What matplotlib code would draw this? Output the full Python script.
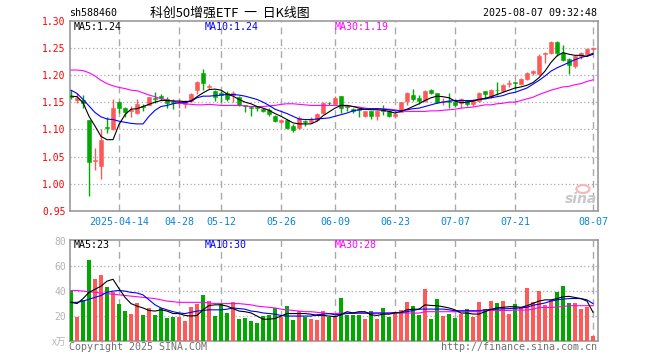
import matplotlib
matplotlib.use("Agg")
import matplotlib.pyplot as plt
import matplotlib.patches as mpatches
import pandas as pd
import numpy as np

# ---------------- data ----------------
holidays = ['2025-04-04', '2025-05-01', '2025-05-02', '2025-05-05', '2025-06-02']
days = pd.bdate_range('2025-04-01', '2025-08-07')
days = days[~days.isin(pd.to_datetime(holidays))]

opens = [1.162, 1.154, 1.154, 1.117, 1.041, 1.032, 1.105, 1.101, 1.151, 1.140,
         1.134, 1.130, 1.143, 1.145, 1.158, 1.161, 1.156, 1.151, 1.148, 1.147,
         1.152, 1.172, 1.203, 1.178, 1.171, 1.167, 1.166, 1.163, 1.160, 1.144,
         1.141, 1.140, 1.138, 1.136, 1.124, 1.113, 1.118, 1.107, 1.102, 1.115,
         1.114, 1.117, 1.130, 1.149, 1.147, 1.162, 1.143, 1.138, 1.137, 1.125,
         1.133, 1.125, 1.135, 1.134, 1.124, 1.132, 1.152, 1.164, 1.158, 1.153,
         1.173, 1.166, 1.150, 1.151, 1.151, 1.148, 1.153, 1.146, 1.153, 1.170,
         1.160, 1.173, 1.170, 1.184, 1.187, 1.184, 1.193, 1.204, 1.202, 1.239,
         1.241, 1.261, 1.241, 1.230, 1.217, 1.234, 1.238, 1.247]
highs = [1.172, 1.166, 1.164, 1.117, 1.066, 1.100, 1.123, 1.155, 1.152, 1.141,
         1.143, 1.156, 1.147, 1.160, 1.169, 1.165, 1.159, 1.155, 1.155, 1.154,
         1.167, 1.188, 1.211, 1.184, 1.172, 1.170, 1.170, 1.170, 1.161, 1.145,
         1.143, 1.143, 1.140, 1.139, 1.127, 1.119, 1.119, 1.109, 1.124, 1.118,
         1.122, 1.130, 1.150, 1.151, 1.162, 1.162, 1.145, 1.140, 1.139, 1.134,
         1.134, 1.136, 1.145, 1.136, 1.130, 1.151, 1.169, 1.174, 1.164, 1.173,
         1.174, 1.167, 1.157, 1.166, 1.153, 1.158, 1.154, 1.155, 1.169, 1.171,
         1.175, 1.187, 1.183, 1.190, 1.187, 1.194, 1.206, 1.209, 1.238, 1.243,
         1.262, 1.262, 1.255, 1.232, 1.236, 1.242, 1.249, 1.251]
lows = [1.156, 1.149, 1.140, 0.977, 1.026, 1.009, 1.093, 1.098, 1.130, 1.122,
        1.122, 1.129, 1.133, 1.144, 1.148, 1.154, 1.140, 1.138, 1.140, 1.140,
        1.150, 1.165, 1.173, 1.174, 1.153, 1.150, 1.153, 1.150, 1.142, 1.131,
        1.125, 1.133, 1.131, 1.125, 1.113, 1.111, 1.100, 1.096, 1.100, 1.107,
        1.111, 1.115, 1.129, 1.144, 1.146, 1.130, 1.133, 1.130, 1.122, 1.123,
        1.119, 1.118, 1.127, 1.123, 1.120, 1.131, 1.145, 1.152, 1.147, 1.151,
        1.165, 1.148, 1.145, 1.139, 1.141, 1.140, 1.143, 1.143, 1.150, 1.156,
        1.158, 1.164, 1.168, 1.178, 1.175, 1.182, 1.190, 1.200, 1.200, 1.221,
        1.238, 1.234, 1.226, 1.201, 1.212, 1.230, 1.236, 1.244]
closes = [1.160, 1.158, 1.149, 1.040, 1.043, 1.080, 1.103, 1.140, 1.140, 1.132,
          1.136, 1.146, 1.141, 1.159, 1.156, 1.158, 1.149, 1.149, 1.150, 1.152,
          1.165, 1.187, 1.185, 1.180, 1.160, 1.164, 1.155, 1.166, 1.145, 1.142,
          1.139, 1.139, 1.133, 1.129, 1.115, 1.118, 1.102, 1.098, 1.121, 1.114,
          1.117, 1.129, 1.149, 1.148, 1.158, 1.139, 1.141, 1.133, 1.136, 1.133,
          1.124, 1.134, 1.134, 1.125, 1.129, 1.150, 1.167, 1.156, 1.152, 1.171,
          1.166, 1.150, 1.151, 1.150, 1.145, 1.155, 1.146, 1.152, 1.167, 1.165,
          1.173, 1.172, 1.181, 1.186, 1.186, 1.193, 1.204, 1.207, 1.235, 1.241,
          1.261, 1.241, 1.228, 1.218, 1.234, 1.241, 1.247, 1.250]

ma5 = [1.161, 1.160, 1.149, 1.124, 1.106, 1.087, 1.081, 1.081, 1.109, 1.127,
       1.137, 1.138, 1.142, 1.146, 1.150, 1.153, 1.153, 1.152, 1.152, 1.151,
       1.152, 1.160, 1.167, 1.173, 1.174, 1.172, 1.165, 1.161, 1.155, 1.150,
       1.147, 1.142, 1.139, 1.135, 1.129, 1.124, 1.118, 1.112, 1.110, 1.110,
       1.110, 1.115, 1.125, 1.132, 1.139, 1.144, 1.144, 1.142, 1.139, 1.137,
       1.136, 1.136, 1.135, 1.133, 1.130, 1.133, 1.137, 1.142, 1.147, 1.153,
       1.158, 1.161, 1.160, 1.158, 1.152, 1.149, 1.150, 1.152, 1.155, 1.157,
       1.160, 1.164, 1.168, 1.172, 1.176, 1.178, 1.181, 1.186, 1.195, 1.207,
       1.223, 1.235, 1.241, 1.238, 1.236, 1.236, 1.234, 1.238]
ma10 = [1.172, 1.166, 1.155, 1.143, 1.131, 1.123, 1.119, 1.118, 1.115, 1.113,
        1.111, 1.110, 1.110, 1.124, 1.135, 1.142, 1.144, 1.147, 1.149, 1.149,
        1.152, 1.158, 1.161, 1.161, 1.162, 1.163, 1.164, 1.164, 1.163, 1.161,
        1.158, 1.155, 1.150, 1.144, 1.137, 1.133, 1.129, 1.124, 1.119, 1.118,
        1.118, 1.119, 1.120, 1.121, 1.124, 1.127, 1.130, 1.134, 1.136, 1.137,
        1.138, 1.138, 1.137, 1.136, 1.134, 1.134, 1.136, 1.138, 1.139, 1.142,
        1.145, 1.148, 1.150, 1.152, 1.153, 1.153, 1.153, 1.153, 1.155, 1.156,
        1.158, 1.160, 1.162, 1.166, 1.168, 1.172, 1.176, 1.183, 1.190, 1.198,
        1.207, 1.213, 1.218, 1.223, 1.228, 1.232, 1.235, 1.240]
ma30 = [1.209, 1.209, 1.208, 1.204, 1.198, 1.190, 1.184, 1.180, 1.177, 1.175,
        1.172, 1.171, 1.167, 1.163, 1.160, 1.156, 1.154, 1.152, 1.149, 1.147,
        1.146, 1.145, 1.145, 1.146, 1.145, 1.144, 1.144, 1.144, 1.144, 1.143,
        1.142, 1.142, 1.142, 1.143, 1.144, 1.146, 1.147, 1.147, 1.146, 1.145,
        1.144, 1.144, 1.144, 1.144, 1.144, 1.143, 1.143, 1.142, 1.141, 1.139,
        1.138, 1.138, 1.138, 1.137, 1.136, 1.134, 1.133, 1.133, 1.133, 1.133,
        1.134, 1.134, 1.135, 1.136, 1.137, 1.139, 1.140, 1.141, 1.143, 1.145,
        1.145, 1.147, 1.148, 1.150, 1.150, 1.153, 1.156, 1.159, 1.164, 1.168,
        1.172, 1.175, 1.178, 1.179, 1.182, 1.184, 1.188, 1.191]

volume = [40, 19.5, 33, 65, 50, 53, 43, 39, 30, 24,
          21.3, 30.7, 20.8, 26.7, 20.8, 26.7, 18.7, 19.5, 19.5, 16,
          27.2, 29.9, 36.8, 32, 20, 29.3, 22.1, 31.2, 17.9, 18.7,
          16, 14.1, 20, 20.5, 26.4, 19.5, 28, 16.8, 23.7, 19.5,
          17.9, 16.8, 23.7, 19, 20, 34.5, 21, 21, 21, 17.7,
          24.2, 17.7, 26.5, 19.5, 23.4, 25, 31.4, 28, 21, 41.7,
          17.7, 33.7, 20.2, 21.7, 18.4, 21.6, 25.6, 19.5, 31.5, 25.6,
          32.3, 30.4, 32.3, 21.6, 29.6, 26.9, 42.4, 30.9, 40.3, 29.1,
          32.8, 39.5, 44.1, 30.4, 30.4, 25.6, 27.5, 4.3]
vol_ma5 = [31, 30, 34, 39, 41.5, 44, 48, 49.5, 42, 35,
           30, 28, 26.5, 24.5, 24, 25, 24, 22, 22, 20.5,
           20, 20.5, 25, 28.5, 29, 29, 28, 26, 24, 23.5,
           22.5, 20, 17.5, 17.5, 18, 20, 22, 22, 22, 22,
           21.5, 20.5, 20.5, 20, 19.5, 21, 23.5, 22.5, 23.5, 23.5,
           21, 20.5, 21.5, 21.5, 22.5, 23, 25, 25.5, 25.5, 29,
           28.5, 28.3, 27.5, 26.5, 25, 22.4, 22.4, 21.6, 21.6, 23.5,
           25.3, 26.5, 27, 27.5, 27.5, 27, 28.3, 30.2, 32, 33,
           33, 34, 35.5, 35.8, 34.9, 34, 32, 23]
vol_ma10 = [31, 31, 32, 33.5, 35, 36.5, 39, 40, 40.5, 40,
            39, 38.5, 37, 33, 29, 26.5, 25, 23.5, 22.5, 22,
            23, 24, 24.5, 25, 25, 25, 25.5, 26.5, 26, 25.5,
            24, 23.5, 22.5, 22, 21.5, 20.5, 20, 20, 20, 20,
            20, 21, 21.5, 22, 21, 21.5, 22, 22.3, 22.4, 22.4,
            22.4, 22.4, 22.4, 22.4, 22.8, 22.8, 23.5, 24.5, 25.5, 25.6,
            25.6, 25.6, 25.6, 25, 24.3, 24.3, 24.3, 24.3, 24.3, 25,
            25.3, 25.6, 25.8, 26, 26.2, 26.5, 27, 28.7, 29.5, 30.5,
            32, 33, 33.6, 34, 34.1, 34, 33, 30]
vol_ma30 = [40.5, 40.5, 40, 39.5, 39, 38.5, 38, 37.5, 37, 36.5,
            36, 35.5, 35, 34.5, 34, 33, 32, 31.5, 31, 31,
            31, 31, 31, 30.5, 30, 30, 30, 30, 30, 29.5,
            29, 28, 27.5, 27, 26.5, 25.5, 25, 24.5, 24, 23.5,
            23.5, 23, 22.5, 22, 22, 22.4, 22.4, 22.4, 22.4, 22.4,
            22.4, 22.4, 22.4, 22.4, 22.4, 22.4, 22.4, 22.4, 22.4, 23.5,
            23.5, 23.5, 23.5, 23.5, 23.5, 23.5, 23.5, 23.5, 23.5, 24.5,
            24.5, 24.5, 24.5, 24.5, 24.8, 24.8, 24.8, 25.5, 26.9, 26.9,
            26.9, 27.3, 27.6, 28.3, 28.3, 28.3, 28.3, 28.3]

tick_dates = ['2025-04-14', '2025-04-28', '2025-05-12', '2025-05-26', '2025-06-09',
              '2025-06-23', '2025-07-07', '2025-07-21', '2025-08-07']
tick_labels = ['2025-04-14', '04-28', '05-12', '05-26', '06-09',
               '06-23', '07-07', '07-21', '08-07']

# ---------------- styling ----------------
UP = '#ff5858'
DOWN = '#00a800'
FRAME = '#999999'
GRID = '#aaaaaa'
MONO = 'DejaVu Sans Mono'
CJK = ['Noto Sans CJK SC', 'DejaVu Sans']

W, H = 660, 360


def fx(px):
    return px / W


def fy(py):
    return 1 - py / H


fig = plt.figure(figsize=(6.6, 3.6), dpi=100)
fig.patch.set_facecolor('white')

ax = fig.add_axes([fx(70), fy(211), (597.5 - 70) / W, (211 - 20.5) / H])
axv = fig.add_axes([fx(70), fy(341), (597.5 - 70) / W, (341 - 240) / H])

x = np.arange(len(closes))
o = np.array(opens)
c = np.array(closes)
up = c >= o
colors = np.where(up, UP, DOWN)

# candles
ax.vlines(x, lows, highs, colors=colors, linewidth=1.0, zorder=3)
body_bottom = np.minimum(o, c)
body_h = np.maximum(np.abs(c - o), 0.0012)
ax.bar(x, body_h, bottom=body_bottom, width=0.8, color=colors,
       edgecolor=colors, linewidth=0.4, zorder=4)

ax.plot(x, ma30, color='#ff00ff', linewidth=0.8, zorder=5)
ax.plot(x, ma10, color='#0000ff', linewidth=0.8, zorder=5)
ax.plot(x, ma5, color='black', linewidth=0.8, zorder=5)

# volume
axv.bar(x, volume, width=0.8, color=colors, linewidth=0, zorder=3)
axv.plot(x, vol_ma30, color='#ff00ff', linewidth=0.8, zorder=5)
axv.plot(x, vol_ma10, color='#0000ff', linewidth=0.8, zorder=5)
axv.plot(x, vol_ma5, color='black', linewidth=0.8, zorder=5)

tick_pos = [days.get_loc(pd.Timestamp(d)) for d in tick_dates]

for a in (ax, axv):
    a.set_xlim(-0.17, 87.75)
    for s in a.spines.values():
        s.set_color(FRAME)
        s.set_linewidth(1.2)
    for p in tick_pos:
        a.axvline(p, color=GRID, linewidth=1.0, linestyle=(0, (5, 3.5)), zorder=1)
    a.tick_params(length=0)

ax.set_ylim(0.95, 1.30)
price_ticks = [0.95, 1.00, 1.05, 1.10, 1.15, 1.20, 1.25, 1.30]
ax.set_yticks(price_ticks)
ax.set_yticklabels(['%.2f' % t for t in price_ticks], color='#ff0000',
                   fontsize=7, family=MONO)
for t in price_ticks[1:-1]:
    ax.axhline(t, color=GRID, linewidth=0.9, linestyle=(0, (1, 2)), zorder=1)
ax.tick_params(axis='y', pad=3)
ax.set_xticks(tick_pos)
ax.set_xticklabels(tick_labels, color='#0a84d6', fontsize=7.2, family=MONO)
ax.tick_params(axis='x', pad=4)

axv.set_ylim(0, 81)
vol_ticks = [20, 40, 60, 80]
axv.set_yticks(vol_ticks)
axv.set_yticklabels([str(t) for t in vol_ticks], color='#b4b4b4',
                    fontsize=7, family=MONO)
for t in vol_ticks[:-1]:
    axv.axhline(t, color=GRID, linewidth=0.9, linestyle=(0, (1, 2)), zorder=1)
axv.tick_params(axis='y', pad=3)
axv.set_xticks([])

# header texts
fig.text(fx(69), fy(13), 'sh588460', fontsize=7.2, family=MONO, color='black',
         va='center', ha='left')
fig.text(fx(150), fy(13), '科创50增强ETF  一  日K线图', fontsize=9.3, family=CJK,
         color='black', va='center', ha='left')
fig.text(fx(597), fy(13), '2025-08-07 09:32:48', fontsize=7.2, family=MONO,
         color='black', va='center', ha='right')

# legends
fig.text(fx(74), fy(27), 'MA5:1.24', fontsize=7.2, family=MONO, color='black', va='center')
fig.text(fx(205), fy(27), 'MA10:1.24', fontsize=7.2, family=MONO, color='#0000ff', va='center')
fig.text(fx(335), fy(27), 'MA30:1.19', fontsize=7.2, family=MONO, color='#ff00ff', va='center')
fig.text(fx(74), fy(245.5), 'MA5:23', fontsize=7.2, family=MONO, color='black', va='center')
fig.text(fx(205), fy(245.5), 'MA10:30', fontsize=7.2, family=MONO, color='#0000ff', va='center')
fig.text(fx(335), fy(245.5), 'MA30:28', fontsize=7.2, family=MONO, color='#ff00ff', va='center')

# footer
fig.text(fx(66), fy(342), 'x万', fontsize=7, family=CJK, color='#b4b4b4',
         va='center', ha='right', style='italic')
fig.text(fx(69), fy(347), 'Copyright 2025 SINA.COM', fontsize=7.2, family=MONO,
         color='#707070', va='center', ha='left')
fig.text(fx(597), fy(347), 'http://finance.sina.com.cn', fontsize=7.2, family=MONO,
         color='#707070', va='center', ha='right')

# sina watermark
fig.patches.append(mpatches.Ellipse((fx(583), fy(189)), 13 / W, 8 / H,
                                    transform=fig.transFigure, facecolor='none',
                                    edgecolor='#f4b8b8', linewidth=1.6))
fig.text(fx(581), fy(199), 'sina', fontsize=10, style='italic', weight='bold',
         color='#c8c8c8', va='center', ha='center', family='DejaVu Sans')

fig.savefig('out.png', dpi=100)
